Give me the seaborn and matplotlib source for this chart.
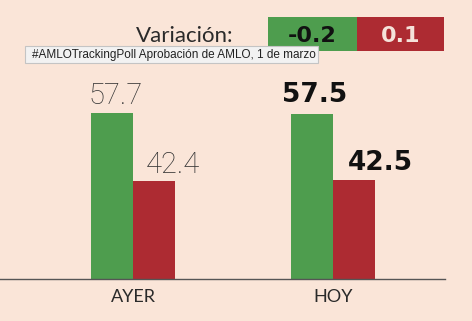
import matplotlib
matplotlib.use("Agg")
import matplotlib.pyplot as plt
from matplotlib.patches import Rectangle
import seaborn as sns
import pandas as pd

# ---- data ----
periodos = ["AYER", "HOY"]
series = ["Aprobación", "Desaprobación"]
aprobacion = [57.7, 57.5]
desaprobacion = [42.4, 42.5]
etiquetas_aprob = ["57.7", "57.5"]
etiquetas_desap = ["42.4", "42.5"]
variacion_titulo = "Variación:"
variaciones = ["-0.2", "0.1"]
tooltip = "#AMLOTrackingPoll Aprobación de AMLO, 1 de marzo"

BG = "#fae5d8"
GREEN = "#4e9d4e"
RED = "#ad2b32"

df = pd.DataFrame({
    "periodo": periodos * 2,
    "serie": [series[0]] * 2 + [series[1]] * 2,
    "valor": aprobacion + desaprobacion,
})

sns.set_theme(style="white")
plt.rcParams["font.family"] = ["Lato", "DejaVu Sans"]

W, H = 472, 321
fig = plt.figure(figsize=(W / 100, H / 100), dpi=100, facecolor=BG)
ax = fig.add_axes([0, 42 / H, 445 / W, 279 / H])
ax.set_facecolor(BG)

sns.barplot(data=df, x="periodo", y="valor", hue="serie", order=periodos,
            hue_order=series, palette=[GREEN, RED], width=0.42,
            saturation=1, linewidth=0, legend=False, ax=ax)

ax.set_ylim(20.3, 20.3 + 279 / 4.44)
ax.set_xlim(-0.665, 1.56)
for s in ["top", "left", "right"]:
    ax.spines[s].set_visible(False)
ax.spines["bottom"].set_color("#555555")
ax.spines["bottom"].set_linewidth(1.0)
ax.set_xlabel("")
ax.set_ylabel("")
ax.set_yticks([])
ax.tick_params(axis="x", length=0, pad=7, labelsize=13, colors="#2a2a2a")

# value labels
labels = [etiquetas_aprob, etiquetas_desap]
dx_px = [[4, 3], [18.5, 26]]
dy_px = [[9, 12], [8, 10]]
for i, cont in enumerate(ax.containers):
    for j, bar in enumerate(cont):
        xc = bar.get_x() + bar.get_width() / 2
        top = bar.get_height()
        bold = (j == 1)
        ax.annotate(labels[i][j], (xc, top),
                    xytext=(dx_px[i][j] * 0.72, dy_px[i][j] * 0.72),
                    textcoords="offset points", ha="center", va="baseline",
                    fontsize=19 if bold else 21,
                    fontweight="bold" if bold else "light",
                    family="DejaVu Sans" if bold else ["Roboto", "DejaVu Sans"],
                    color="#111111" if bold else "#333333",
                    annotation_clip=False)

# header: Variación boxes
def fx(px):
    return px / W

def fy(py_top):
    return (H - py_top) / H

fig.patches.append(Rectangle((fx(268), fy(51)), fx(89), 34 / H,
                             transform=fig.transFigure, facecolor=GREEN,
                             edgecolor="none", zorder=1))
fig.patches.append(Rectangle((fx(357), fy(51)), fx(87), 34 / H,
                             transform=fig.transFigure, facecolor=RED,
                             edgecolor="none", zorder=1))
fig.text(fx(233), fy(42), variacion_titulo, ha="right", va="baseline",
         fontsize=16, color="#2a2a2a", zorder=2)
fig.text(fx(312.5), fy(42.5), variaciones[0], ha="center", va="baseline",
         fontsize=16, fontweight="bold", family="DejaVu Sans",
         color="#111111", zorder=2)
fig.text(fx(400.5), fy(42.5), variaciones[1], ha="center", va="baseline",
         fontsize=16, fontweight="bold", family="DejaVu Sans",
         color="#f5e2da", zorder=2)

# tooltip
fig.patches.append(Rectangle((fx(25), fy(63)), fx(293), 17 / H,
                             transform=fig.transFigure, facecolor="#f2f2f2",
                             edgecolor="#c4c4c4", linewidth=0.8, zorder=5))
fig.text(fx(32), fy(58), tooltip, ha="left", va="baseline",
         fontsize=8.5, family=["Liberation Sans", "DejaVu Sans"],
         color="#222222", zorder=6)

fig.savefig("out.png", dpi=100, facecolor=BG)
